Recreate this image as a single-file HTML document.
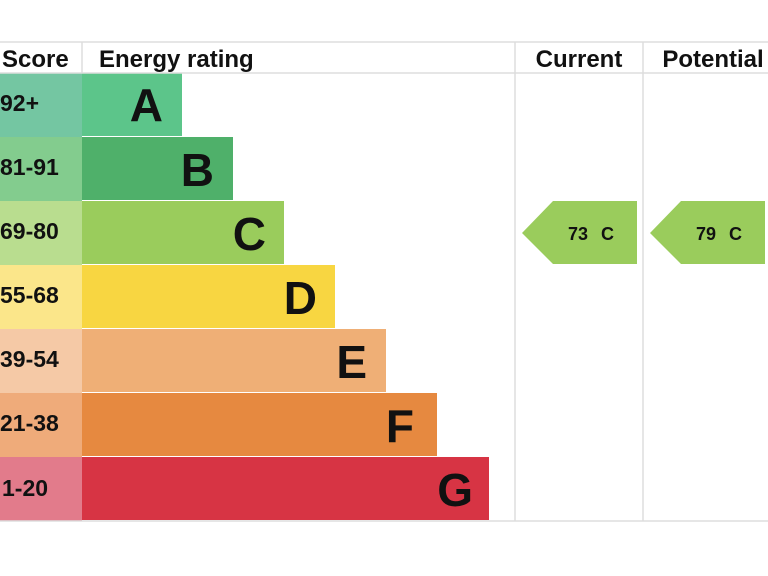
<html><head><style>body{margin:0;background:#fff}</style></head><body>
<svg width="768" height="576" xmlns="http://www.w3.org/2000/svg" font-family="Liberation Sans, sans-serif" font-weight="bold">
<rect width="768" height="576" fill="#fff"/>
<g>
<rect x="0" y="73" width="82" height="64" fill="#74c6a2"/>
<rect x="0" y="137" width="82" height="64" fill="#83cc8e"/>
<rect x="0" y="201" width="82" height="64" fill="#b9dd8f"/>
<rect x="0" y="265" width="82" height="64" fill="#fbe68a"/>
<rect x="0" y="329" width="82" height="64" fill="#f5c9a6"/>
<rect x="0" y="393" width="82" height="64" fill="#efab7a"/>
<rect x="0" y="457" width="82" height="64" fill="#e27b8b"/>
<rect x="82" y="73" width="100" height="63" fill="#5cc58a"/>
<rect x="82" y="137" width="151" height="63" fill="#4fb06a"/>
<rect x="82" y="201" width="202" height="63" fill="#9acc5c"/>
<rect x="82" y="265" width="253" height="63" fill="#f8d641"/>
<rect x="82" y="329" width="304" height="63" fill="#efaf76"/>
<rect x="82" y="393" width="355" height="63" fill="#e68940"/>
<rect x="82" y="457" width="407" height="63" fill="#d73444"/>
</g>
<g stroke="#ddd" stroke-width="1.5" fill="none">
<line x1="0" y1="42" x2="768" y2="42"/>
<line x1="0" y1="73" x2="768" y2="73"/>
<line x1="0" y1="521" x2="768" y2="521"/>
<line x1="82" y1="42" x2="82" y2="73"/>
<line x1="515" y1="42" x2="515" y2="521"/>
<line x1="643" y1="42" x2="643" y2="521"/>
</g>
<g font-size="24" fill="#111">
<text x="2" y="67">Score</text>
<text x="99" y="67">Energy rating</text>
<text x="579" y="67" text-anchor="middle">Current</text>
<text x="713" y="67" text-anchor="middle">Potential</text>
</g>
<g font-size="23" fill="#111">
<text x="0" y="111">92+</text>
<text x="0" y="175">81-91</text>
<text x="0" y="239">69-80</text>
<text x="0" y="303">55-68</text>
<text x="0" y="367">39-54</text>
<text x="0" y="431">21-38</text>
<text x="2" y="496">1-20</text>
</g>
<g font-size="46" fill="#111" text-anchor="end">
<text x="163" y="121">A</text>
<text x="214" y="186">B</text>
<text x="266" y="250">C</text>
<text x="317" y="314">D</text>
<text x="367" y="378">E</text>
<text x="414" y="442">F</text>
<text x="473" y="506">G</text>
</g>
<polygon points="522,233 553,201 637,201 637,264 553,264" fill="#9acc5c"/>
<polygon points="650,233 681,201 765,201 765,264 681,264" fill="#9acc5c"/>
<g font-size="18" fill="#111">
<text x="568" y="240">73</text><text x="601" y="240">C</text>
<text x="696" y="240">79</text><text x="729" y="240">C</text>
</g>
</svg>
</body></html>
